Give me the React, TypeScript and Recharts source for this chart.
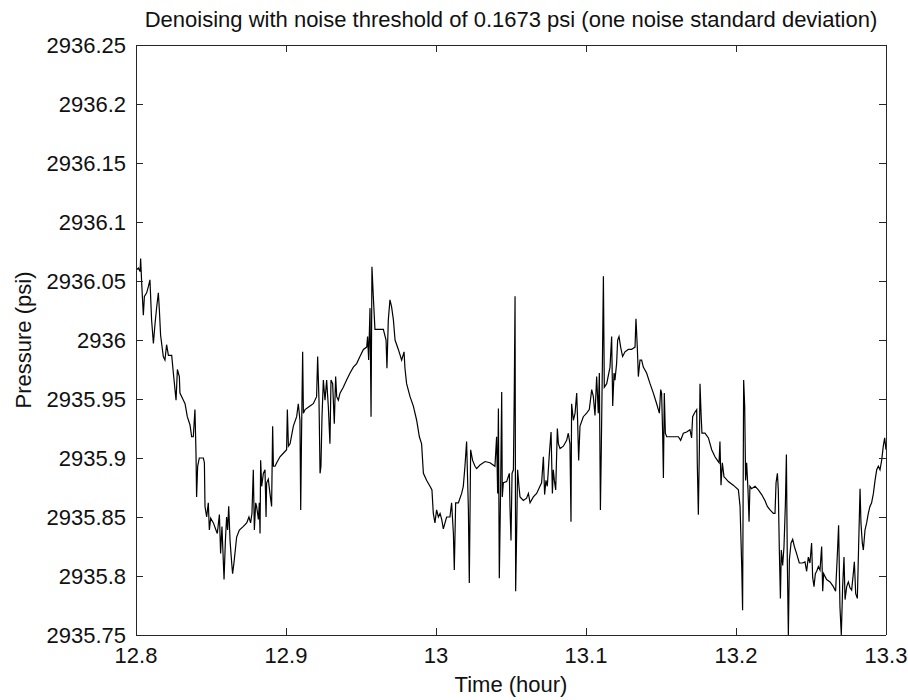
import { LineChart, Line, XAxis, YAxis } from "recharts";

const xTicks = [12.8, 12.9, 13, 13.1, 13.2, 13.3];
const yTicks = [
  2935.75, 2935.8, 2935.85, 2935.9, 2935.95, 2936, 2936.05, 2936.1, 2936.15,
  2936.2, 2936.25,
];

// time in hours
const time = [
  // 12.80 - 12.90
  12.8, 12.8016, 12.8027, 12.8031, 12.8038, 12.8049, 12.8056, 12.8071, 12.8082, 12.8093,
  12.8104, 12.8116, 12.8127, 12.8138, 12.8149, 12.8156, 12.8164, 12.8182, 12.8193, 12.8204,
  12.8216, 12.8238, 12.8249, 12.8267, 12.8276, 12.8289, 12.8293, 12.8316, 12.8327, 12.8342,
  12.836, 12.8371, 12.8382, 12.8393, 12.84, 12.8404, 12.8411, 12.8422, 12.8449, 12.8456,
  12.846, 12.8471, 12.8482, 12.8489, 12.8498, 12.8516, 12.8533, 12.8542, 12.8556, 12.8564,
  12.8573, 12.8587, 12.8596, 12.8604, 12.8611, 12.8618, 12.8627, 12.8638, 12.8644, 12.8653,
  12.8671, 12.8689, 12.8716, 12.8738, 12.8753, 12.8764, 12.8773, 12.8782, 12.8789, 12.8798,
  12.8804, 12.8816, 12.8822, 12.8827, 12.8831, 12.8838, 12.8849, 12.886, 12.8867, 12.8871,
  12.8882, 12.8893, 12.8904, 12.8911, 12.8916, 12.8927, 12.8938, 12.896, 12.8982, 12.9004,
  // 12.90 - 13.03
  12.9009, 12.9016, 12.9027, 12.9049, 12.9071, 12.9082, 12.9093, 12.9098, 12.9104, 12.9111,
  12.9116, 12.9127, 12.916, 12.9182, 12.9204, 12.9211, 12.922, 12.9227, 12.9233, 12.924,
  12.9249, 12.926, 12.9271, 12.9282, 12.9293, 12.93, 12.9311, 12.9322, 12.9331, 12.9338,
  12.9349, 12.936, 12.9382, 12.9404, 12.9427, 12.9449, 12.9471, 12.9493, 12.9516, 12.9538,
  12.9544, 12.9551, 12.956, 12.9567, 12.9573, 12.9582, 12.9593, 12.9616, 12.9649, 12.9667,
  12.9673, 12.9682, 12.9693, 12.9704, 12.9716, 12.9727, 12.9749, 12.9771, 12.9787, 12.9793,
  12.9804, 12.9827, 12.9849, 12.9871, 12.9889, 12.9904, 12.9916, 12.9938, 12.996, 12.9973,
  12.9982, 12.9993, 13.0004, 13.0016, 13.0027, 13.0038, 13.0049, 13.006, 13.0071, 13.0093,
  13.0104, 13.0116, 13.0122, 13.0131, 13.0149, 13.0171, 13.0182, 13.0193, 13.0204, 13.0216,
  13.0222, 13.0231, 13.0244, 13.026, 13.0271, 13.0293,
  // 13.03 - 13.17
  13.0327, 13.036, 13.0393, 13.0404, 13.0411, 13.0416, 13.0422, 13.0431, 13.0438, 13.0442,
  13.0449, 13.0471, 13.0489, 13.0493, 13.05, 13.0507, 13.0516, 13.0522, 13.0527, 13.0531,
  13.0538, 13.0544, 13.0553, 13.056, 13.0582, 13.0604, 13.0616, 13.0627, 13.0649, 13.0671,
  13.0693, 13.0704, 13.0716, 13.0724, 13.0733, 13.0742, 13.0756, 13.0767, 13.0776, 13.0782,
  13.0789, 13.0798, 13.0809, 13.0816, 13.0827, 13.0849, 13.0871, 13.0882, 13.0893, 13.09,
  13.0904, 13.0916, 13.0927, 13.0938, 13.0944, 13.0951, 13.096, 13.0982, 13.1004, 13.1022,
  13.1038, 13.1049, 13.106, 13.1071, 13.1082, 13.1089, 13.1096, 13.1102, 13.1109, 13.1116,
  13.1122, 13.1138, 13.116, 13.1171, 13.1178, 13.1187, 13.1193, 13.1204, 13.1211, 13.122,
  13.1231, 13.1244, 13.126, 13.1282, 13.1304, 13.1327, 13.1333, 13.1342, 13.1349, 13.136,
  13.1371, 13.1382, 13.1404, 13.1427, 13.1449, 13.1471, 13.1489, 13.1498, 13.1504, 13.1511,
  13.1516, 13.1522, 13.1529, 13.1538, 13.156, 13.1593, 13.1616, 13.1631, 13.1649, 13.1671,
  // 13.17 - 13.30
  13.1693, 13.1704, 13.1711, 13.1727, 13.1738, 13.1742, 13.1749, 13.1756, 13.176, 13.1767,
  13.1773, 13.1793, 13.1816, 13.1838, 13.186, 13.1876, 13.1887, 13.1893, 13.19, 13.1909,
  13.192, 13.1929, 13.1949, 13.1982, 13.2016, 13.2027, 13.2038, 13.2044, 13.2051, 13.2058,
  13.2064, 13.2071, 13.208, 13.2087, 13.2093, 13.2104, 13.2127, 13.2149, 13.2171, 13.2193,
  13.2209, 13.2227, 13.2249, 13.226, 13.2267, 13.2276, 13.2282, 13.2289, 13.2296, 13.2302,
  13.2311, 13.232, 13.2329, 13.2336, 13.2342, 13.2349, 13.2356, 13.2367, 13.2378, 13.2389,
  13.2404, 13.2422, 13.2444, 13.246, 13.2471, 13.2482, 13.2493, 13.2504, 13.2511, 13.252,
  13.2529, 13.2538, 13.2549, 13.256, 13.2571, 13.2578, 13.2584, 13.2604, 13.2627, 13.2649,
  13.2664, 13.2676, 13.2684, 13.2693, 13.2702, 13.2711, 13.272, 13.2727, 13.2738, 13.2749,
  13.276, 13.2771, 13.2782, 13.2789, 13.2798, 13.2809, 13.2818, 13.2827, 13.2833, 13.2842,
  13.2849, 13.286, 13.2871, 13.2882, 13.2893, 13.2904, 13.2916, 13.2927, 13.2938, 13.2949,
  13.296, 13.2971, 13.2982, 13.2991, 13.3,
];

// pressure in psi, same order as time
const pressure = [
  2936.059, 2936.061, 2936.058, 2936.069, 2936.048, 2936.021, 2936.037, 2936.04, 2936.045, 2936.051,
  2936.017, 2935.997, 2936.014, 2936.028, 2936.04, 2936.025, 2936.004, 2935.986, 2935.983, 2935.996,
  2935.987, 2935.987, 2935.972, 2935.949, 2935.975, 2935.969, 2935.955, 2935.949, 2935.946, 2935.935,
  2935.928, 2935.918, 2935.918, 2935.941, 2935.904, 2935.867, 2935.893, 2935.9, 2935.9, 2935.896,
  2935.859, 2935.85, 2935.862, 2935.839, 2935.849, 2935.845, 2935.839, 2935.836, 2935.852, 2935.819,
  2935.842, 2935.797, 2935.83, 2935.85, 2935.839, 2935.859, 2935.83, 2935.811, 2935.802, 2935.811,
  2935.833, 2935.839, 2935.842, 2935.845, 2935.85, 2935.845, 2935.853, 2935.89, 2935.839, 2935.862,
  2935.859, 2935.848, 2935.862, 2935.836, 2935.898, 2935.876, 2935.887, 2935.89, 2935.85, 2935.879,
  2935.882, 2935.87, 2935.859, 2935.927, 2935.893, 2935.893, 2935.896, 2935.901, 2935.904, 2935.907,

  2935.941, 2935.91, 2935.912, 2935.927, 2935.935, 2935.946, 2935.932, 2935.856, 2935.924, 2935.99,
  2935.938, 2935.941, 2935.944, 2935.946, 2935.952, 2935.986, 2935.949, 2935.887, 2935.893, 2935.935,
  2935.966, 2935.949, 2935.966, 2935.944, 2935.912, 2935.966, 2935.963, 2935.929, 2935.969, 2935.952,
  2935.949, 2935.955, 2935.96, 2935.966, 2935.972, 2935.977, 2935.98, 2935.986, 2935.992, 2935.994,
  2936.003, 2935.983, 2936.027, 2935.935, 2936.062, 2936.037, 2936.009, 2936.009, 2936.009, 2936.0,
  2935.976, 2936.017, 2936.034, 2936.028, 2936.017, 2936.0, 2935.992, 2935.983, 2935.99, 2935.976,
  2935.963, 2935.952, 2935.944, 2935.932, 2935.918, 2935.912, 2935.887, 2935.881, 2935.876, 2935.873,
  2935.853, 2935.845, 2935.856, 2935.85, 2935.853, 2935.848, 2935.84, 2935.845, 2935.85, 2935.85,
  2935.862, 2935.836, 2935.805, 2935.862, 2935.862, 2935.87, 2935.876, 2935.893, 2935.914, 2935.856,
  2935.794, 2935.907, 2935.898, 2935.893, 2935.891, 2935.894,

  2935.897, 2935.896, 2935.893, 2935.918, 2935.87, 2935.942, 2935.798, 2935.876, 2935.956, 2935.867,
  2935.879, 2935.88, 2935.887, 2935.859, 2935.83, 2935.887, 2935.89, 2935.958, 2936.037, 2935.787,
  2935.839, 2935.89, 2935.876, 2935.867, 2935.864, 2935.866, 2935.87, 2935.862, 2935.867, 2935.87,
  2935.876, 2935.879, 2935.901, 2935.869, 2935.881, 2935.876, 2935.904, 2935.922, 2935.87, 2935.89,
  2935.881, 2935.873, 2935.925, 2935.912, 2935.908, 2935.91, 2935.915, 2935.921, 2935.912, 2935.846,
  2935.946, 2935.932, 2935.938, 2935.955, 2935.932, 2935.898, 2935.927, 2935.935, 2935.938, 2935.941,
  2935.958, 2935.952, 2935.936, 2935.969, 2935.938, 2935.972, 2935.856, 2935.907, 2935.977, 2936.054,
  2935.96, 2935.963, 2935.977, 2936.003, 2935.944, 2935.972, 2935.966, 2935.98, 2936.0, 2936.003,
  2935.994, 2935.986, 2935.99, 2935.992, 2935.992, 2935.994, 2936.018, 2935.994, 2935.969, 2935.983,
  2935.983, 2935.977, 2935.972, 2935.963, 2935.955, 2935.946, 2935.938, 2935.958, 2935.955, 2935.921,
  2935.883, 2935.955, 2935.921, 2935.918, 2935.918, 2935.918, 2935.918, 2935.915, 2935.921, 2935.922,

  2935.924, 2935.917, 2935.935, 2935.939, 2935.941, 2935.895, 2935.852, 2935.91, 2935.963, 2935.938,
  2935.921, 2935.921, 2935.917, 2935.907, 2935.901, 2935.898, 2935.896, 2935.914, 2935.877, 2935.896,
  2935.884, 2935.883, 2935.88, 2935.877, 2935.873, 2935.859, 2935.809, 2935.771, 2935.966, 2935.944,
  2935.881, 2935.896, 2935.873, 2935.846, 2935.876, 2935.874, 2935.876, 2935.873, 2935.869, 2935.864,
  2935.859, 2935.856, 2935.853, 2935.853, 2935.879, 2935.887, 2935.873, 2935.821, 2935.781, 2935.822,
  2935.809, 2935.825, 2935.86, 2935.903, 2935.814, 2935.75, 2935.814, 2935.828, 2935.831, 2935.825,
  2935.819, 2935.811, 2935.811, 2935.812, 2935.804, 2935.816, 2935.811, 2935.828, 2935.799, 2935.791,
  2935.802, 2935.804, 2935.808, 2935.805, 2935.825, 2935.787, 2935.802, 2935.797, 2935.795, 2935.791,
  2935.787, 2935.819, 2935.843, 2935.774, 2935.75, 2935.791, 2935.816, 2935.78, 2935.791, 2935.795,
  2935.79, 2935.788, 2935.802, 2935.812, 2935.785, 2935.781, 2935.828, 2935.874, 2935.845, 2935.828,
  2935.822, 2935.839, 2935.845, 2935.853, 2935.859, 2935.862, 2935.87, 2935.881, 2935.89, 2935.893,
  2935.89, 2935.898, 2935.91, 2935.917, 2935.907,
];

const data = time.map((t, i) => ({ t, p: pressure[i] }));

const FONT = '"Liberation Sans", Arial, Helvetica, sans-serif';
const AXIS = "#262626";
const TICK = 7;

const fmt = (v: number) => String(Number(v.toFixed(2)));

function BottomTick({ x, y, payload }: any) {
  return (
    <g>
      <line x1={x} y1={y} x2={x} y2={y - TICK} stroke={AXIS} shapeRendering="crispEdges" />
      <text x={x} y={y + 28} textAnchor="middle" fontSize={22} fontFamily={FONT} fill="#111">
        {fmt(payload.value)}
      </text>
    </g>
  );
}

function TopTick({ x, y }: any) {
  return <line x1={x} y1={y} x2={x} y2={y + TICK} stroke={AXIS} shapeRendering="crispEdges" />;
}

function LeftTick({ x, y, payload }: any) {
  return (
    <g>
      <line x1={x} y1={y} x2={x + TICK} y2={y} stroke={AXIS} shapeRendering="crispEdges" />
      <text x={x - 10} y={y + 8} textAnchor="end" fontSize={22} fontFamily={FONT} fill="#111">
        {fmt(payload.value)}
      </text>
    </g>
  );
}

function RightTick({ x, y }: any) {
  return <line x1={x} y1={y} x2={x - TICK} y2={y} stroke={AXIS} shapeRendering="crispEdges" />;
}

const axisLine = { stroke: AXIS, shapeRendering: "crispEdges" };

const textBase = {
  position: "absolute" as const,
  fontFamily: FONT,
  fontSize: 22,
  lineHeight: "22px",
  whiteSpace: "nowrap" as const,
  color: "#111",
};

export default function App() {
  return (
    <div style={{ position: "absolute", left: 0, top: 0, width: 908, height: 700, background: "#fff" }}>
      <LineChart width={908} height={700} data={data} margin={{ top: 35, right: 12, bottom: 35, left: 76 }}>
        <XAxis
          dataKey="t"
          type="number"
          domain={[12.8, 13.3]}
          ticks={xTicks}
          allowDataOverflow
          height={30}
          tickSize={0}
          tickMargin={0}
          tickLine={false}
          axisLine={axisLine}
          tick={(p: any) => <BottomTick {...p} />}
          interval={0}
        />
        <XAxis
          xAxisId="top"
          orientation="top"
          dataKey="t"
          type="number"
          domain={[12.8, 13.3]}
          ticks={xTicks}
          allowDataOverflow
          height={10}
          tickSize={0}
          tickMargin={0}
          tickLine={false}
          axisLine={axisLine}
          tick={(p: any) => <TopTick {...p} />}
          interval={0}
        />
        <YAxis
          type="number"
          domain={[2935.75, 2936.25]}
          ticks={yTicks}
          allowDataOverflow
          width={60}
          tickSize={0}
          tickMargin={0}
          tickLine={false}
          axisLine={axisLine}
          tick={(p: any) => <LeftTick {...p} />}
          interval={0}
        />
        <YAxis
          yAxisId="right"
          orientation="right"
          type="number"
          domain={[2935.75, 2936.25]}
          ticks={yTicks}
          allowDataOverflow
          width={10}
          tickSize={0}
          tickMargin={0}
          tickLine={false}
          axisLine={axisLine}
          tick={(p: any) => <RightTick {...p} />}
          interval={0}
        />
        <Line
          type="linear"
          dataKey="p"
          stroke="#000"
          strokeWidth={1.2}
          dot={false}
          isAnimationActive={false}
        />
      </LineChart>
      <div style={{ ...textBase, left: 511, top: 9.4, transform: "translateX(-50%)" }}>
        Denoising with noise threshold of 0.1673 psi (one noise standard deviation)
      </div>
      <div style={{ ...textBase, left: 511, top: 674.4, transform: "translateX(-50%)" }}>
        Time (hour)
      </div>
      <div style={{ ...textBase, left: 24.4, top: 340, transform: "translate(-50%, -50%) rotate(-90deg)" }}>
        Pressure (psi)
      </div>
    </div>
  );
}
